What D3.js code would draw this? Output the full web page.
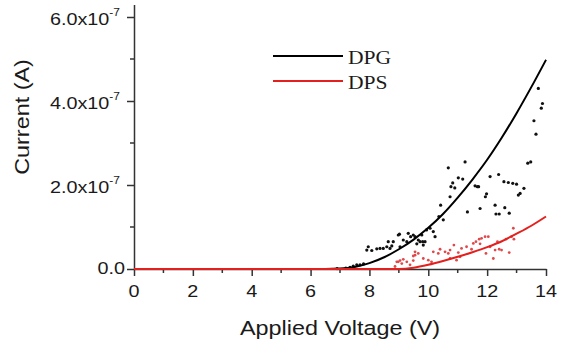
<!DOCTYPE html>
<html>
<head>
<meta charset="utf-8">
<script src="https://cdn.jsdelivr.net/npm/d3@7"></script>
<style>
  body { margin: 0; background: #fff; }
  svg { display: block; }
</style>
</head>
<body>
<svg id="chart" width="571" height="343"></svg>
<script>
// values are in units of 1e-7 A
const xTicks = [0, 2, 4, 6, 8, 10, 12, 14];
const xMinor = [1, 3, 5, 7, 9, 11, 13];
const yTicks = [0, 2, 4, 6];
const yMinor = [1, 3, 5];
const yTickLabels = ['0.0', '2.0x10', '4.0x10', '6.0x10'];
const yTickExp = ['', '-7', '-7', '-7'];
const seriesNames = ['DPG', 'DPS'];

// fitted curves
const fitV = [0, 6.5, 7, 7.5, 8, 8.5, 9, 9.5, 10, 10.5, 11, 11.5, 12, 12.5, 13, 13.5, 14];
const dpgFit = [0, 0, 0.01, 0.05, 0.14, 0.28, 0.47, 0.70, 0.98, 1.31, 1.70, 2.13, 2.60, 3.13, 3.71, 4.33, 4.98];
const dpsFit = [0, 0, 0, 0, 0, 0, 0, 0.03, 0.10, 0.19, 0.29, 0.40, 0.52, 0.66, 0.84, 1.03, 1.25];

// measured points [V, I]
const dpgPoints = [
  [13.74, 4.30], [13.88, 3.94], [13.84, 3.83], [13.59, 3.53], [13.66, 3.21], [13.38, 2.52], [13.48, 2.55],
  [11.25, 2.55], [10.68, 2.41], [11.02, 2.17], [11.17, 2.14], [10.83, 2.05], [10.77, 1.96], [10.90, 1.93],
  [11.59, 1.98], [11.67, 1.96], [11.71, 1.96], [12.10, 2.20], [12.39, 2.25], [12.57, 2.08], [12.72, 2.06],
  [12.87, 2.04], [13.00, 2.02], [13.25, 1.92], [13.12, 1.80], [13.06, 1.76],
  [11.98, 1.79], [11.94, 1.72], [12.27, 1.52], [11.76, 1.44], [11.33, 1.36], [12.30, 1.31], [12.41, 1.31],
  [12.60, 1.46], [12.75, 1.33],
  [10.74, 1.72], [10.42, 1.52], [10.51, 1.17], [10.36, 1.25], [10.17, 0.89], [10.06, 0.97], [9.94, 0.93],
  [9.81, 0.65], [9.66, 0.69], [9.49, 0.81], [9.40, 0.77], [9.32, 0.85], [9.15, 0.69], [9.02, 0.83],
  [8.81, 0.65], [8.76, 0.55], [8.59, 0.53], [8.47, 0.49], [9.89, 0.65], [9.61, 0.60], [10.23, 0.77], [9.78, 0.81],
  [7.91, 0.45], [7.96, 0.53], [8.08, 0.44], [8.25, 0.48], [8.36, 0.49], [8.64, 0.65], [8.70, 0.49],
  [8.98, 0.81], [9.04, 0.53], [9.27, 0.65], [9.55, 0.77], [9.72, 0.65], [9.83, 0.57],
  [7.68, 0.10], [7.57, 0.10], [7.45, 0.07], [7.34, 0.04], [7.80, 0.12], [7.20, 0.02], [6.90, 0.01]
];
const dpsPoints = [
  [12.89, 0.97], [12.83, 0.77], [12.91, 0.71], [12.64, 0.71], [12.35, 0.65], [12.04, 0.77], [11.93, 0.77],
  [11.81, 0.73], [11.73, 0.71], [11.62, 0.65], [11.53, 0.61], [11.76, 0.60], [12.10, 0.53], [12.27, 0.45],
  [12.41, 0.47], [12.49, 0.45], [12.75, 0.39], [12.21, 0.25], [11.96, 0.37], [11.47, 0.47], [11.30, 0.53],
  [11.13, 0.49], [11.02, 0.39], [10.87, 0.57], [10.74, 0.45], [10.68, 0.37], [10.57, 0.41], [10.40, 0.47],
  [10.34, 0.37], [10.17, 0.41], [10.00, 0.21], [9.83, 0.25], [9.66, 0.37], [9.55, 0.33], [9.49, 0.20],
  [9.27, 0.17], [9.10, 0.13], [8.98, 0.17], [8.87, 0.06], [11.08, 0.29], [10.96, 0.21], [10.74, 0.25],
  [10.11, 0.17], [9.38, 0.10], [9.55, 0.41], [9.49, 0.31], [9.04, 0.20], [8.93, 0.17], [9.15, 0.23]
];

const svg = d3.select('#chart');
const sx = 1.2; // glyphs in the original are wider than Arial

const x = d3.scaleLinear().domain([0, 14]).range([134, 546]);
const y = d3.scaleLinear().domain([0, 6.3]).range([269, 4.4]);

const axisColor = '#333';
const textColor = '#1a1a1a';

// helper for horizontally stretched text
function label(g, px, py, str, size, anchor, family, rot) {
  return g.append('text')
    .attr('transform', `translate(${px},${py}) rotate(${rot || 0}) scale(${sx},1)`)
    .attr('text-anchor', anchor)
    .attr('font-family', family || 'Liberation Sans, Arial, sans-serif')
    .attr('font-size', size)
    .attr('fill', textColor)
    .text(str);
}

// axes
const xAxis = svg.append('g')
  .attr('transform', `translate(0,${y(0)})`)
  .call(d3.axisBottom(x).tickValues(xTicks).tickSize(7).tickSizeOuter(0).tickFormat(''));
xAxis.append('g').selectAll('line')
  .data(xMinor).enter().append('line')
  .attr('x1', d => x(d)).attr('x2', d => x(d))
  .attr('y1', 0).attr('y2', 4);

const yAxis = svg.append('g')
  .attr('transform', `translate(${x(0)},0)`)
  .call(d3.axisLeft(y).tickValues(yTicks).tickSize(7).tickSizeOuter(0).tickFormat(''));
yAxis.append('g').selectAll('line')
  .data(yMinor).enter().append('line')
  .attr('x1', 0).attr('x2', -4)
  .attr('y1', d => y(d)).attr('y2', d => y(d));

svg.selectAll('.domain, .tick line, g line')
  .attr('stroke', axisColor)
  .attr('stroke-width', 1.5);

// tick labels
xTicks.forEach(v => label(svg, x(v), 297, String(v), 16.5, 'middle'));

yTicks.forEach((v, i) => {
  if (yTickExp[i] === '') {
    label(svg, 125, y(v) + 4.5, yTickLabels[i], 16.5, 'end');
  } else {
    const t = label(svg, 120, y(v) + 8, yTickLabels[i], 16.5, 'end');
    t.append('tspan')
      .attr('font-size', 10)
      .attr('dy', -9)
      .text(yTickExp[i]);
  }
});

// axis titles
label(svg, 340, 335, 'Applied Voltage (V)', 19.5, 'middle');
label(svg, 29, 117, 'Current (A)', 19.5, 'middle', null, -90);

// points
const plot = svg.append('g');
plot.append('g').selectAll('circle')
  .data(dpgPoints).enter().append('circle')
  .attr('cx', d => x(d[0])).attr('cy', d => y(d[1]))
  .attr('r', 1.6)
  .attr('fill', '#111');

plot.append('g').selectAll('circle')
  .data(dpsPoints).enter().append('circle')
  .attr('cx', d => x(d[0])).attr('cy', d => y(d[1]))
  .attr('r', 1.4)
  .attr('fill', '#e0484a');

// fitted lines
const line = vals => d3.line()
  .x((d, i) => x(fitV[i]))
  .y(d => y(d))
  .curve(d3.curveMonotoneX)(vals);

plot.append('path')
  .attr('d', line(dpgFit))
  .attr('fill', 'none')
  .attr('stroke', '#000')
  .attr('stroke-width', 2);

plot.append('path')
  .attr('d', line(dpsFit))
  .attr('fill', 'none')
  .attr('stroke', '#e3201e')
  .attr('stroke-width', 2);

// legend
const legendColors = ['#000', '#e3201e'];
const legend = svg.append('g');
seriesNames.forEach((name, i) => {
  const ly = 56 + i * 25;
  legend.append('line')
    .attr('x1', 273).attr('x2', 343)
    .attr('y1', ly).attr('y2', ly)
    .attr('stroke', legendColors[i])
    .attr('stroke-width', 2);
  label(legend, 348, ly + 8, name, 18, 'start', 'Liberation Serif, Times New Roman, serif');
});
</script>
</body>
</html>
